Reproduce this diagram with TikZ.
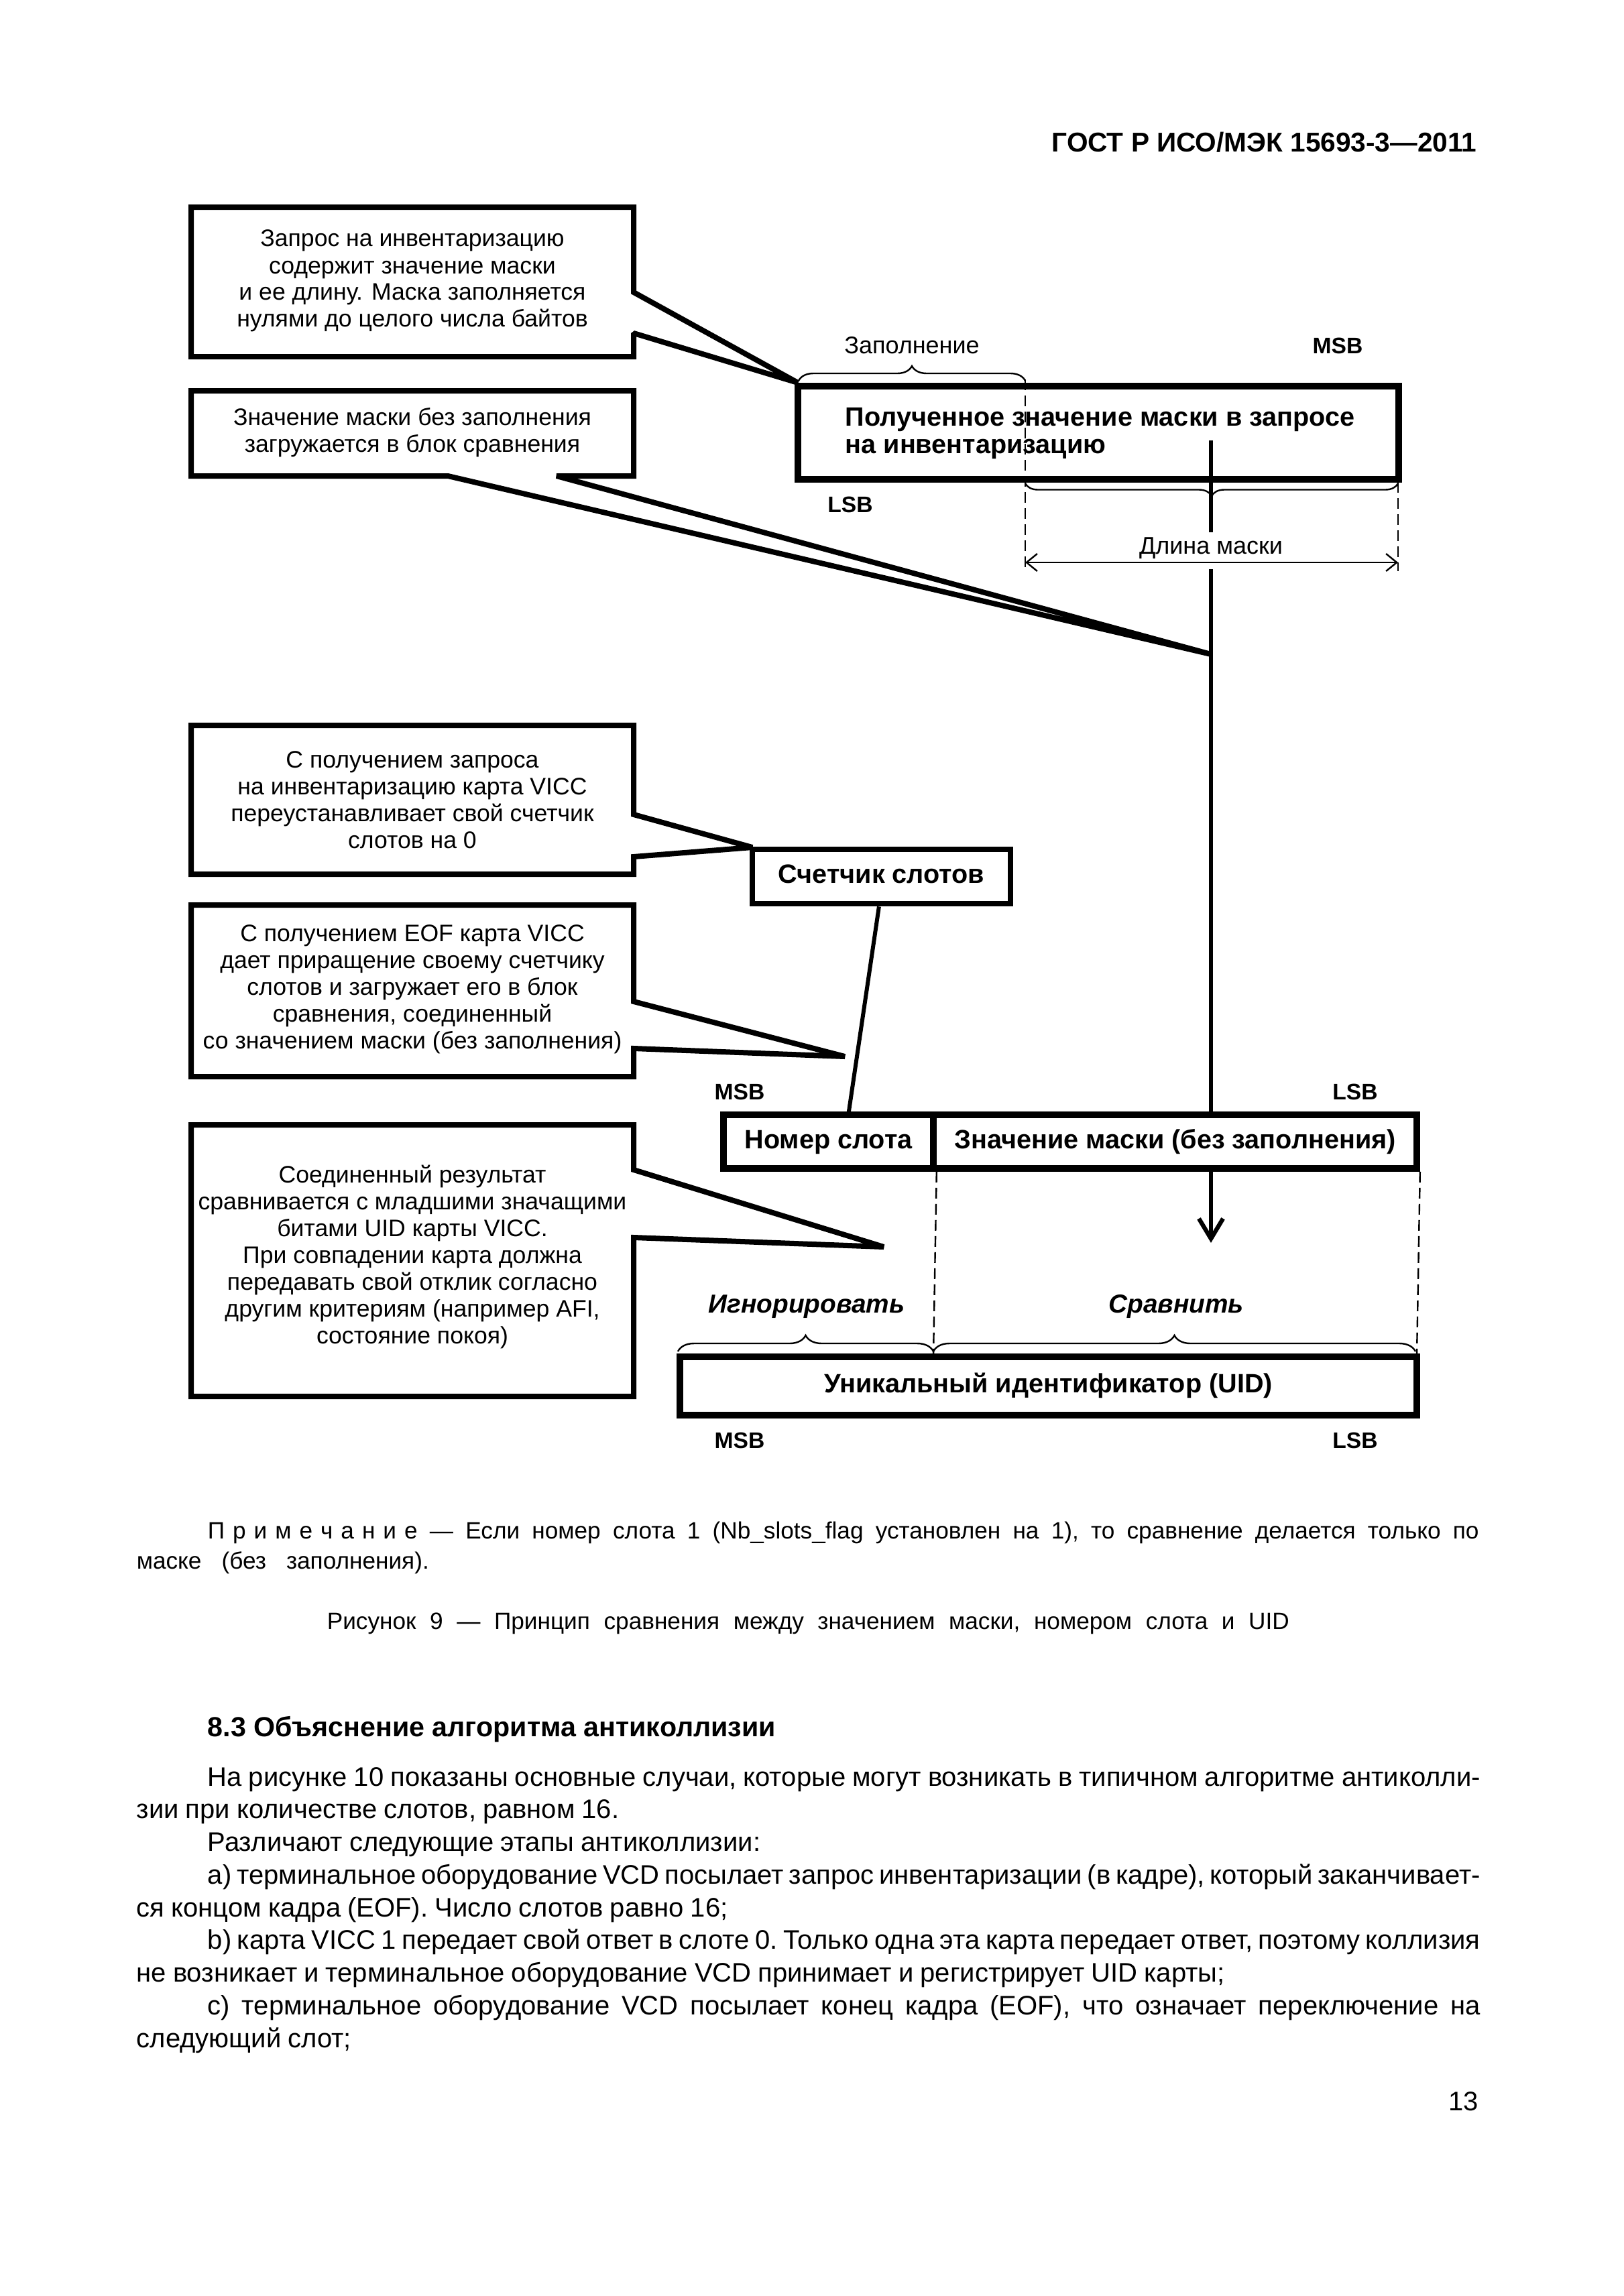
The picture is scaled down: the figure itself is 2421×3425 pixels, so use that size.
\documentclass[tikz,border=0pt]{standalone}
\usepackage{fontspec}
\setmainfont{Liberation Sans}
\usetikzlibrary{arrows.meta,decorations.pathreplacing}
\newcommand\jl[2]{\makebox[#1][s]{#2}}
\newcommand\bodyfont{\fontsize{10}{12}\selectfont\frenchspacing\spaceskip=0.25em plus 2em minus 0.08em\relax}
\newcommand\notefont{\fontsize{8.8}{10}\selectfont\frenchspacing\spaceskip=0.278em plus 3em minus 0.05em\relax}
\begin{document}
\begin{tikzpicture}[x=0.25pt,y=-0.25pt,
  every node/.style={inner sep=0pt},
  callout/.style={draw, line width=2pt, fill=white, line join=miter, miter limit=1.5},
  ctext/.style={anchor=base, font=\fontsize{8.9}{10}\selectfont},
  box/.style={draw, fill=white, rectangle, text height=7pt, text depth=2pt, font=\bfseries\fontsize{9.9}{11}\selectfont},
  bitlab/.style={anchor=base, font=\bfseries\fontsize{8.4}{10}\selectfont},
  smalllab/.style={anchor=base, font=\fontsize{9}{10}\selectfont},
  partlab/.style={anchor=base, font=\bfseries\itshape\fontsize{9.7}{11}\selectfont},
  fineline/.style={line width=0.6pt},
  dashline/.style={line width=0.6pt, dash pattern=on 4pt off 2pt},
  brc/.style={line width=0.6pt, decorate, decoration={brace, amplitude=#1}},
  bodyline/.style={anchor=base west, font=\bodyfont},
  noteline/.style={anchor=base west, font=\notefont},
]
\useasboundingbox[fill=white] (0,0) rectangle (2421,3425);

% header
\node[anchor=base east, font=\bfseries\fontsize{10.15}{12}\selectfont] (hdr) at (2203,226) {ГОСТ Р ИСО/МЭК 15693-3—2011};

% tips of callouts
\coordinate (t1) at (1190,571);
\coordinate (t2) at (1806,976);
\coordinate (t3) at (1122,1264);
\coordinate (t4) at (1260,1576);
\coordinate (t5) at (1318,1860);

% callouts
\draw[callout] (285,309) -- (945,309) -- (945,436) -- (t1) -- (945,497) -- (945,532) -- (285,532) -- cycle;
\node[ctext] (c1) at (615,368) {\parbox[t]{200pt}{\centering Запрос на инвентаризацию\\ содержит значение маски\\ и ее длину. Маска заполняется\\ нулями до целого числа байтов}};

\draw[callout] (285,583) -- (945,583) -- (945,710) -- (830,710) -- (t2) -- (668,710) -- (285,710) -- cycle;
\node[ctext] (c2) at (615,634) {\parbox[t]{200pt}{\centering Значение маски без заполнения\\ загружается в блок сравнения}};

\draw[callout] (285,1082) -- (945,1082) -- (945,1215) -- (t3) -- (945,1278) -- (945,1304) -- (285,1304) -- cycle;
\node[ctext] (c3) at (615,1145) {\parbox[t]{200pt}{\centering С получением запроса\\ на инвентаризацию карта VICC\\ переустанавливает свой счетчик\\ слотов на 0}};

\draw[callout] (285,1350) -- (945,1350) -- (945,1494) -- (t4) -- (945,1564) -- (945,1606) -- (285,1606) -- cycle;
\node[ctext] (c4) at (615,1404) {\parbox[t]{200pt}{\centering С получением EOF карта VICC\\ дает приращение своему счетчику\\ слотов и загружает его в блок\\ сравнения, соединенный\\ со значением маски (без заполнения)}};

\draw[callout] (285,1678) -- (945,1678) -- (945,1745) -- (t5) -- (945,1846) -- (945,2083) -- (285,2083) -- cycle;
\node[ctext] (c5) at (615,1764) {\parbox[t]{200pt}{\centering Соединенный результат\\ сравнивается с младшими значащими\\ битами UID карты VICC.\\ При совпадении карта должна\\ передавать свой отклик согласно\\ другим критериям (например AFI,\\ состояние покоя)}};

% received mask box
\node[draw, fill=white, line width=2.4pt, minimum width=224pt, minimum height=34.75pt] (req) at (1638,645.5) {};
\node[anchor=base west, font=\bfseries\fontsize{9.9}{10.25}\selectfont] (reqtext) at (1260,635) {\parbox[t]{220pt}{Полученное значение маски в запросе\\на инвентаризацию}};

\node[smalllab] (pad) at (1360,527) {Заполнение};
\node[bitlab] (msb1) at (1995,527) {MSB};
\node[bitlab] (lsb1) at (1268,764) {LSB};

\draw[brc=5.5pt] (1191,568) -- (1529,568);
\draw[brc=4.75pt] (2085,721) -- (1529,721);

\draw[dashline] (1529,566) -- (1529,852);
\draw[dashline] (2085,719) -- (2085,852);

\coordinate (la) at (1529,839);
\coordinate (lb) at (2085,839);
\draw[fineline, {Straight Barb[length=4pt,width=6.5pt]}-{Straight Barb[length=4pt,width=6.5pt]}] (la) -- (lb);
\node[smalllab] (len) at (1806,826) {Длина маски};

% slot counter
\node[box, line width=2.2pt, minimum width=96.25pt, minimum height=20.25pt] (counter) at (1314.5,1307.5) {Счетчик слотов};

% slot number / mask value
\node[box, line width=2.4pt, minimum width=78.25pt, minimum height=20pt] (slot) at (1235.5,1703) {Номер слота};
\node[box, line width=2.4pt, minimum width=180.25pt, minimum height=20pt] (mask) at (1752.5,1703) {Значение маски (без заполнения)};
\node[bitlab] (msb2) at (1103,1640) {MSB};
\node[bitlab] (lsb2) at (2021,1640) {LSB};

% main vertical line
\coordinate (v0) at (1806,657);
\coordinate (v1) at (1806,794);
\coordinate (v2) at (1806,849);
\draw[line width=1.6pt] (v0) -- (v1);
\draw[line width=1.6pt] (v2) -- ([xshift=13.375pt]mask.north);
\coordinate (arrend) at (1806,1854);
\draw[line width=1.6pt, -{Straight Barb[length=7.5pt,width=9pt]}] ([xshift=13.375pt]mask.south) -- (arrend);

% counter to slot
\draw[line width=1.5pt] ([xshift=-0.9pt]counter.south) -- ([xshift=7.6pt]slot.north);

% UID
\node[box, line width=2.6pt, minimum width=274.75pt, minimum height=21.75pt] (uid) at (1563.5,2067.5) {Уникальный идентификатор (UID)};
\draw[dashline] (slot.south east) -- (1392,2022);
\draw[dashline] (mask.south east) -- (2113,2022);
\draw[brc=6pt] (1011,2016) -- (1392,2016);
\draw[brc=6pt] (1392,2016) -- (2111,2016);
\node[partlab] (ign) at (1203,1958) {Игнорировать};
\node[partlab] (cmp) at (1754,1958) {Сравнить};
\node[bitlab] (msb3) at (1103,2160) {MSB};
\node[bitlab] (lsb3) at (2021,2160) {LSB};

% note and caption
\node[noteline] (n1) at (309,2295) {\jl{474pt}{П\kern3pt р\kern3pt и\kern3pt м\kern3pt е\kern3pt ч\kern3pt а\kern3pt н\kern3pt и\kern3pt е — Если номер слота 1 (Nb\_slots\_flag установлен на 1), то сравнение делается только по}};
\node[noteline] (n2) at (203,2340) {\jl{109pt}{маске (без заполнения).}};
\node[noteline] (cap) at (487,2430) {\jl{358.75pt}{Рисунок 9 — Принцип сравнения между значением маски, номером слота и UID}};

% section
\node[anchor=base west, font=\bfseries\fontsize{10.3}{12}\selectfont] (sec) at (309,2590) {8.3 Объяснение алгоритма антиколлизии};
\node[bodyline] (b1) at (309,2664) {\jl{474.5pt}{На рисунке 10 показаны основные случаи, которые могут возникать в типичном алгоритме антиколли-}};
\node[bodyline] (b2) at (203,2712.75) {зии при количестве слотов, равном 16.};
\node[bodyline] (b3) at (309,2761.5) {Различают следующие этапы антиколлизии:};
\node[bodyline] (b4) at (309,2810.25) {\jl{474.5pt}{a) терминальное оборудование VCD посылает запрос инвентаризации (в кадре), который заканчивает-}};
\node[bodyline] (b5) at (203,2859) {ся концом кадра (EOF). Число слотов равно 16;};
\node[bodyline] (b6) at (309,2907.75) {\jl{474.5pt}{b) карта VICC 1 передает свой ответ в слоте 0. Только одна эта карта передает ответ, поэтому коллизия}};
\node[bodyline] (b7) at (203,2956.5) {не возникает и терминальное оборудование VCD принимает и регистрирует UID карты;};
\node[bodyline] (b8) at (309,3005.25) {\jl{474.5pt}{c) терминальное оборудование VCD посылает конец кадра (EOF), что означает переключение на}};
\node[bodyline] (b9) at (203,3054) {следующий слот;};
\node[anchor=base east, font=\fontsize{10}{12}\selectfont] (pg) at (2206,3148) {13};
\end{tikzpicture}
\end{document}
